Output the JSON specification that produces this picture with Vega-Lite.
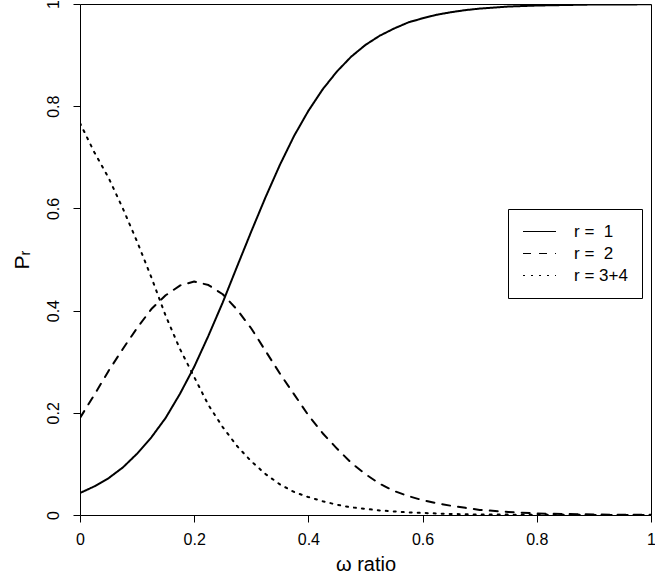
{
  "$schema": "https://vega.github.io/schema/vega-lite/v6.json",
  "width": 571,
  "height": 511,
  "autosize": "none",
  "padding": {"left": 80, "top": 4, "right": 4, "bottom": 63},
  "background": "white",
  "config": {
    "font": "Liberation Sans",
    "view": {"stroke": "black", "strokeWidth": 1},
    "axis": {
      "domain": false, "grid": false, "tickColor": "black", "tickSize": 7, "tickWidth": 1,
      "labelColor": "black", "titleColor": "black", "labelFontSize": 16, "titleFontSize": 20,
      "titleFontWeight": "normal", "labelFont": "Liberation Sans", "titleFont": "Liberation Sans",
      "labelFlush": false, "labelOverlap": false, "labelBound": false
    }
  },
  "data": {"values": [
    {"x": 0, "p": 0.043, "r": "r = \u00a01"},
    {"x": 0.025, "p": 0.056, "r": "r = \u00a01"},
    {"x": 0.05, "p": 0.072, "r": "r = \u00a01"},
    {"x": 0.075, "p": 0.093, "r": "r = \u00a01"},
    {"x": 0.1, "p": 0.12, "r": "r = \u00a01"},
    {"x": 0.125, "p": 0.152, "r": "r = \u00a01"},
    {"x": 0.15, "p": 0.19, "r": "r = \u00a01"},
    {"x": 0.175, "p": 0.237, "r": "r = \u00a01"},
    {"x": 0.2, "p": 0.29, "r": "r = \u00a01"},
    {"x": 0.225, "p": 0.351, "r": "r = \u00a01"},
    {"x": 0.25, "p": 0.416, "r": "r = \u00a01"},
    {"x": 0.275, "p": 0.486, "r": "r = \u00a01"},
    {"x": 0.3, "p": 0.555, "r": "r = \u00a01"},
    {"x": 0.325, "p": 0.622, "r": "r = \u00a01"},
    {"x": 0.35, "p": 0.685, "r": "r = \u00a01"},
    {"x": 0.375, "p": 0.742, "r": "r = \u00a01"},
    {"x": 0.4, "p": 0.791, "r": "r = \u00a01"},
    {"x": 0.425, "p": 0.833, "r": "r = \u00a01"},
    {"x": 0.45, "p": 0.868, "r": "r = \u00a01"},
    {"x": 0.475, "p": 0.897, "r": "r = \u00a01"},
    {"x": 0.5, "p": 0.92, "r": "r = \u00a01"},
    {"x": 0.525, "p": 0.938, "r": "r = \u00a01"},
    {"x": 0.55, "p": 0.952, "r": "r = \u00a01"},
    {"x": 0.575, "p": 0.964, "r": "r = \u00a01"},
    {"x": 0.6, "p": 0.972, "r": "r = \u00a01"},
    {"x": 0.625, "p": 0.979, "r": "r = \u00a01"},
    {"x": 0.65, "p": 0.984, "r": "r = \u00a01"},
    {"x": 0.675, "p": 0.988, "r": "r = \u00a01"},
    {"x": 0.7, "p": 0.991, "r": "r = \u00a01"},
    {"x": 0.75, "p": 0.995, "r": "r = \u00a01"},
    {"x": 0.8, "p": 0.997, "r": "r = \u00a01"},
    {"x": 0.85, "p": 0.998, "r": "r = \u00a01"},
    {"x": 0.9, "p": 0.999, "r": "r = \u00a01"},
    {"x": 0.95, "p": 0.999, "r": "r = \u00a01"},
    {"x": 1, "p": 0.9995, "r": "r = \u00a01"},

    {"x": 0, "p": 0.19, "r": "r = \u00a02"},
    {"x": 0.025, "p": 0.235, "r": "r = \u00a02"},
    {"x": 0.05, "p": 0.282, "r": "r = \u00a02"},
    {"x": 0.075, "p": 0.325, "r": "r = \u00a02"},
    {"x": 0.1, "p": 0.366, "r": "r = \u00a02"},
    {"x": 0.125, "p": 0.403, "r": "r = \u00a02"},
    {"x": 0.15, "p": 0.43, "r": "r = \u00a02"},
    {"x": 0.175, "p": 0.449, "r": "r = \u00a02"},
    {"x": 0.2, "p": 0.457, "r": "r = \u00a02"},
    {"x": 0.225, "p": 0.45, "r": "r = \u00a02"},
    {"x": 0.25, "p": 0.432, "r": "r = \u00a02"},
    {"x": 0.275, "p": 0.402, "r": "r = \u00a02"},
    {"x": 0.3, "p": 0.365, "r": "r = \u00a02"},
    {"x": 0.325, "p": 0.321, "r": "r = \u00a02"},
    {"x": 0.35, "p": 0.277, "r": "r = \u00a02"},
    {"x": 0.375, "p": 0.236, "r": "r = \u00a02"},
    {"x": 0.4, "p": 0.195, "r": "r = \u00a02"},
    {"x": 0.425, "p": 0.16, "r": "r = \u00a02"},
    {"x": 0.45, "p": 0.13, "r": "r = \u00a02"},
    {"x": 0.475, "p": 0.102, "r": "r = \u00a02"},
    {"x": 0.5, "p": 0.08, "r": "r = \u00a02"},
    {"x": 0.525, "p": 0.061, "r": "r = \u00a02"},
    {"x": 0.55, "p": 0.047, "r": "r = \u00a02"},
    {"x": 0.575, "p": 0.037, "r": "r = \u00a02"},
    {"x": 0.6, "p": 0.029, "r": "r = \u00a02"},
    {"x": 0.625, "p": 0.023, "r": "r = \u00a02"},
    {"x": 0.65, "p": 0.018, "r": "r = \u00a02"},
    {"x": 0.675, "p": 0.014, "r": "r = \u00a02"},
    {"x": 0.7, "p": 0.01, "r": "r = \u00a02"},
    {"x": 0.75, "p": 0.006, "r": "r = \u00a02"},
    {"x": 0.8, "p": 0.003, "r": "r = \u00a02"},
    {"x": 0.85, "p": 0.002, "r": "r = \u00a02"},
    {"x": 0.9, "p": 0.001, "r": "r = \u00a02"},
    {"x": 0.95, "p": 0.0005, "r": "r = \u00a02"},
    {"x": 1, "p": 0.0003, "r": "r = \u00a02"},

    {"x": 0, "p": 0.767, "r": "r = 3+4"},
    {"x": 0.025, "p": 0.71, "r": "r = 3+4"},
    {"x": 0.05, "p": 0.66, "r": "r = 3+4"},
    {"x": 0.075, "p": 0.6, "r": "r = 3+4"},
    {"x": 0.1, "p": 0.535, "r": "r = 3+4"},
    {"x": 0.125, "p": 0.465, "r": "r = 3+4"},
    {"x": 0.15, "p": 0.39, "r": "r = 3+4"},
    {"x": 0.175, "p": 0.325, "r": "r = 3+4"},
    {"x": 0.2, "p": 0.27, "r": "r = 3+4"},
    {"x": 0.225, "p": 0.215, "r": "r = 3+4"},
    {"x": 0.25, "p": 0.172, "r": "r = 3+4"},
    {"x": 0.275, "p": 0.135, "r": "r = 3+4"},
    {"x": 0.3, "p": 0.105, "r": "r = 3+4"},
    {"x": 0.325, "p": 0.08, "r": "r = 3+4"},
    {"x": 0.35, "p": 0.06, "r": "r = 3+4"},
    {"x": 0.375, "p": 0.045, "r": "r = 3+4"},
    {"x": 0.4, "p": 0.035, "r": "r = 3+4"},
    {"x": 0.425, "p": 0.027, "r": "r = 3+4"},
    {"x": 0.45, "p": 0.02, "r": "r = 3+4"},
    {"x": 0.475, "p": 0.015, "r": "r = 3+4"},
    {"x": 0.5, "p": 0.012, "r": "r = 3+4"},
    {"x": 0.525, "p": 0.009, "r": "r = 3+4"},
    {"x": 0.55, "p": 0.007, "r": "r = 3+4"},
    {"x": 0.575, "p": 0.005, "r": "r = 3+4"},
    {"x": 0.6, "p": 0.004, "r": "r = 3+4"},
    {"x": 0.65, "p": 0.002, "r": "r = 3+4"},
    {"x": 0.7, "p": 0.001, "r": "r = 3+4"},
    {"x": 0.8, "p": 0.0005, "r": "r = 3+4"},
    {"x": 0.9, "p": 0.0002, "r": "r = 3+4"},
    {"x": 1, "p": 0.0001, "r": "r = 3+4"}
  ]},
  "mark": {"type": "line", "strokeWidth": 2, "color": "black", "strokeCap": "round", "strokeJoin": "round", "clip": true},
  "encoding": {
    "x": {
      "field": "x", "type": "quantitative",
      "scale": {"domain": [0, 1], "nice": false, "zero": false},
      "axis": {"values": [0, 0.2, 0.4, 0.6, 0.8, 1], "format": "~g", "title": "ω ratio", "labelPadding": 9, "titlePadding": 7}
    },
    "y": {
      "field": "p", "type": "quantitative",
      "scale": {"domain": [0, 1], "nice": false, "zero": false},
      "axis": {"values": [0, 0.2, 0.4, 0.6, 0.8, 1], "format": "~g", "title": "Pᵣ", "titleFontSize": 21, "labelAngle": -90, "labelAlign": "center", "labelBaseline": "bottom", "labelPadding": 12, "titlePadding": 13}
    },
    "strokeDash": {
      "field": "r", "type": "nominal",
      "scale": {"domain": ["r = \u00a01", "r = \u00a02", "r = 3+4"], "range": [[1, 0], [8, 8], [2, 6]]},
      "legend": {
        "orient": "none", "legendX": 428, "legendY": 205, "title": null,
        "strokeColor": "black", "padding": 14, "symbolType": "M-1,0H3.4", "symbolSize": 225,
        "symbolStrokeWidth": 1, "symbolStrokeColor": "black", "labelFontSize": 17,
        "labelFont": "Liberation Sans", "labelColor": "black", "labelOffset": 35, "rowPadding": 4,
        "encode": {"symbols": {
          "enter": {
            "strokeDash": {"signal": "datum.index === 0 ? [1, 0] : datum.index === 1 ? [4, 4] : [1, 2]"}
          },
          "update": {
            "strokeWidth": {"value": 1},
            "strokeCap": {"value": "butt"},
            "strokeDash": {"signal": "datum.index === 0 ? [1, 0] : datum.index === 1 ? [4, 4] : [1, 2]"}
          }
        }}
      }
    }
  }
}
